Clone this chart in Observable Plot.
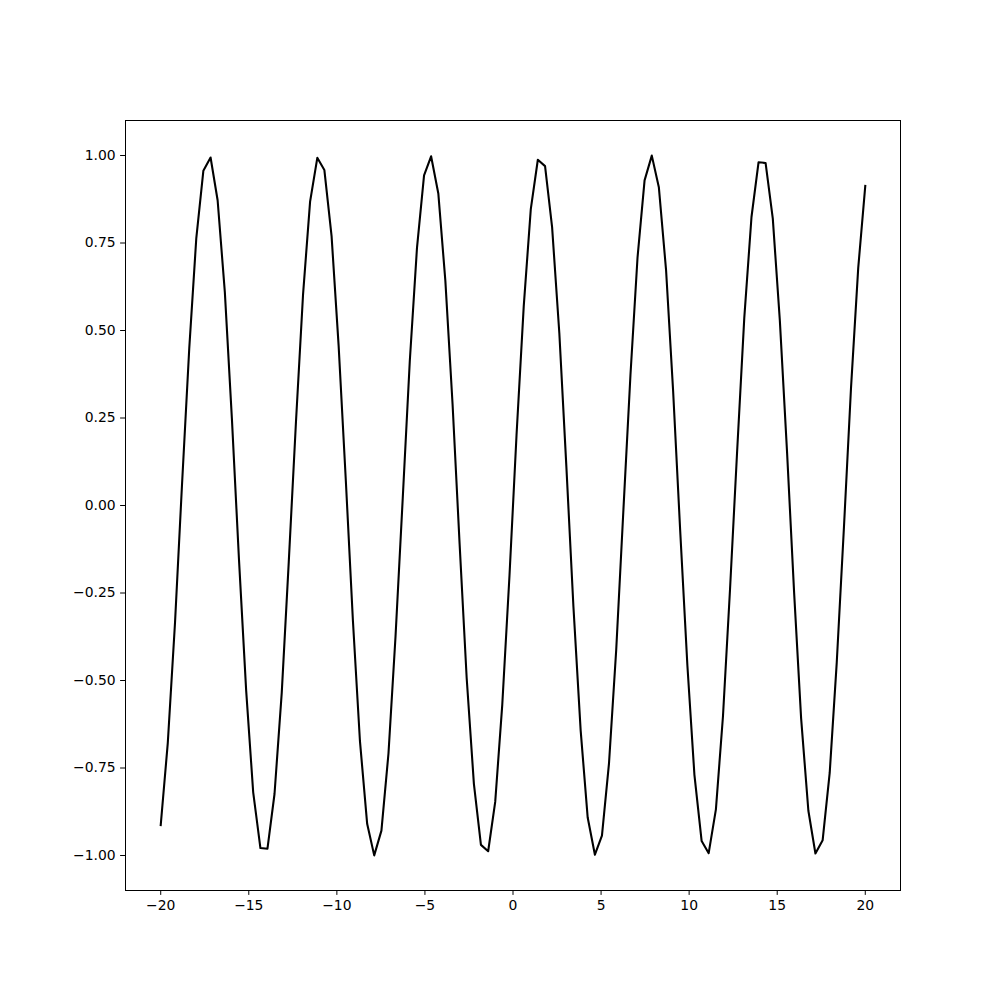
<!DOCTYPE html>
<html><head><meta charset="utf-8">
<script src="https://cdn.jsdelivr.net/npm/d3@7"></script>
<script src="https://cdn.jsdelivr.net/npm/@observablehq/plot@0.6"></script>
<style>body{margin:0;background:#fff}</style>
</head><body><div id="chart"></div>
<script>
const xValues = [
  -20.00, -19.60, -19.19, -18.79, -18.38, -17.98, -17.58, -17.17, -16.77, -16.36,
  -15.96, -15.56, -15.15, -14.75, -14.34, -13.94, -13.54, -13.13, -12.73, -12.32,
  -11.92, -11.52, -11.11, -10.71, -10.30, -9.90, -9.49, -9.09, -8.69, -8.28,
  -7.88, -7.47, -7.07, -6.67, -6.26, -5.86, -5.45, -5.05, -4.65, -4.24,
  -3.84, -3.43, -3.03, -2.63, -2.22, -1.82, -1.41, -1.01, -0.61, -0.20,
  0.20, 0.61, 1.01, 1.41, 1.82, 2.22, 2.63, 3.03, 3.43, 3.84,
  4.24, 4.65, 5.05, 5.45, 5.86, 6.26, 6.67, 7.07, 7.47, 7.88,
  8.28, 8.69, 9.09, 9.49, 9.90, 10.30, 10.71, 11.11, 11.52, 11.92,
  12.32, 12.73, 13.13, 13.54, 13.94, 14.34, 14.75, 15.15, 15.56, 15.96,
  16.36, 16.77, 17.17, 17.58, 17.98, 18.38, 18.79, 19.19, 19.60, 20.00
];
const yValues = [
  -0.9129, -0.6790, -0.3357, 0.0616, 0.4491, 0.7642, 0.9562, 0.9943, 0.8722, 0.6097,
  0.2490, -0.1518, -0.5282, -0.8195, -0.9788, -0.9805, -0.8243, -0.5354, -0.1602, 0.2408,
  0.6029, 0.8680, 0.9933, 0.9587, 0.7696, 0.4566, 0.0701, -0.3277, -0.6727, -0.9094,
  -0.9997, -0.9289, -0.7086, -0.3742, 0.0206, 0.4120, 0.7370, 0.9434, 0.9978, 0.8916,
  0.6418, 0.2886, -0.1111, -0.4928, -0.7952, -0.9696, -0.9878, -0.8469, -0.5696, -0.2006,
  0.2006, 0.5696, 0.8469, 0.9878, 0.9696, 0.7952, 0.4928, 0.1111, -0.2886, -0.6418,
  -0.8916, -0.9978, -0.9434, -0.7370, -0.4120, -0.0206, 0.3742, 0.7086, 0.9289, 0.9997,
  0.9094, 0.6727, 0.3277, -0.0701, -0.4566, -0.7696, -0.9587, -0.9933, -0.8680, -0.6029,
  -0.2408, 0.1602, 0.5354, 0.8243, 0.9805, 0.9788, 0.8195, 0.5282, 0.1518, -0.2490,
  -0.6097, -0.8722, -0.9943, -0.9562, -0.7642, -0.4491, -0.0616, 0.3357, 0.6790, 0.9129
];
const xTicks = [-20, -15, -10, -5, 0, 5, 10, 15, 20];
const yTicks = [-1, -0.75, -0.5, -0.25, 0, 0.25, 0.5, 0.75, 1];

const data = xValues.map((x, i) => ({x, y: yValues[i]}));

const chart = Plot.plot({
  width: 1000, height: 1000,
  marginLeft: 125, marginRight: 100, marginTop: 120, marginBottom: 110,
  style: {fontFamily: "DejaVu Sans", fontSize: "13.9px", background: "white", color: "black"},
  x: {domain: [-22, 22]},
  y: {domain: [-1.1, 1.1]},
  marks: [
    Plot.frame({stroke: "black", strokeWidth: 1}),
    Plot.axisX({ticks: xTicks, tickSize: 4.9, tickPadding: 4.9, label: null, tickFormat: d3.format("d")}),
    Plot.axisY({ticks: yTicks, tickSize: 4.9, tickPadding: 4.9, label: null, tickFormat: d3.format(".2f")}),
    Plot.line(data, {x: "x", y: "y", stroke: "black", strokeWidth: 2.08, strokeLinecap: "square", strokeLinejoin: "round"})
  ]
});
document.getElementById("chart").appendChild(chart);
</script>
</body></html>
